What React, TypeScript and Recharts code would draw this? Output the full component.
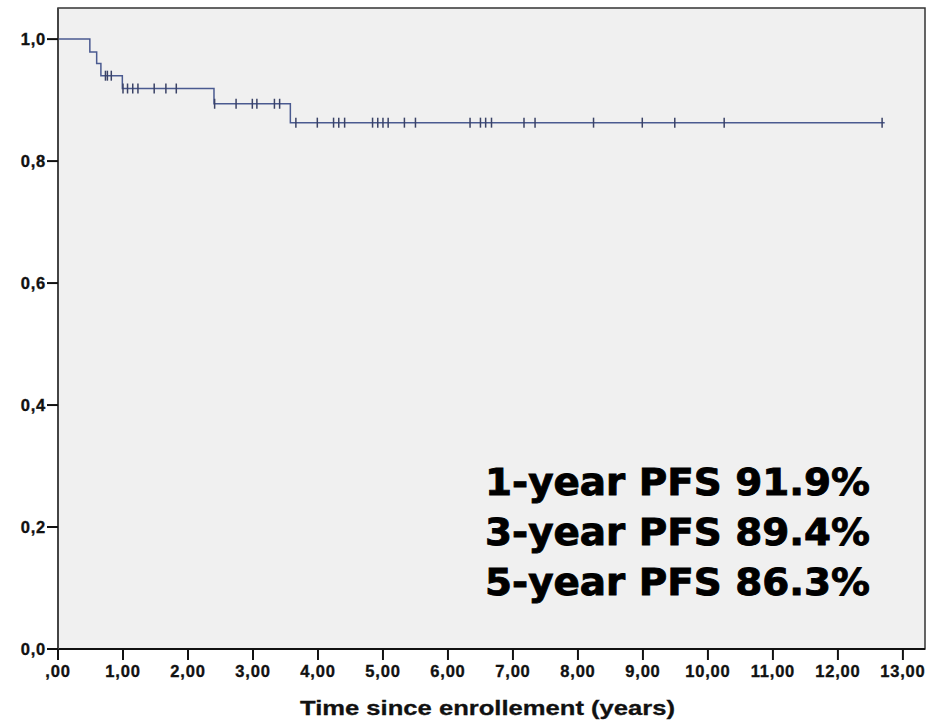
import React from 'react';
import {
  ComposedChart, Line, Scatter, XAxis, YAxis, ReferenceArea, Customized,
} from 'recharts';

// Kaplan-Meier steps: time (years) and survival proportion
const stepTimes = [0, 0.49, 0.595, 0.66, 0.99, 2.4, 3.575, 12.72];
const stepSurvival = [1.0, 0.979, 0.96, 0.94, 0.919, 0.894, 0.863, 0.863];

// censored observations (years)
const censoredTimes = [
  0.73, 0.76, 0.82, 1.0, 1.07, 1.15, 1.23, 1.48, 1.66, 1.82,
  2.41, 2.74, 2.99, 3.06, 3.33, 3.41, 3.66, 3.99, 4.24, 4.32,
  4.41, 4.84, 4.92, 5.0, 5.08, 5.33, 5.5, 6.34, 6.5, 6.58,
  6.67, 7.17, 7.34, 8.24, 8.99, 9.49, 10.25, 12.68,
];

const xTicks = [0, 1, 2, 3, 4, 5, 6, 7, 8, 9, 10, 11, 12, 13];
const yTicks = [0, 0.2, 0.4, 0.6, 0.8, 1.0];

const pfsLabels = ['1-year PFS 91.9%', '3-year PFS 89.4%', '5-year PFS 86.3%'];
const xTitle = 'Time since enrollement (years)';

const X_MAX = 13.34;
const Y_MAX = 1.051;

const stepData = stepTimes.map((t, i) => ({ t, s: stepSurvival[i] }));

const survivalAt = (t: number) => {
  let s = stepSurvival[0];
  stepTimes.forEach((st, i) => {
    if (st <= t) s = stepSurvival[i];
  });
  return s;
};

const censorData = censoredTimes.map(t => ({ t, s: survivalAt(t) }));

const fmtX = (v: number) => (v === 0 ? ',00' : `${v},00`);
const fmtY = (v: number) => v.toFixed(1).replace('.', ',');

const CensorMark = (props: any) => {
  const { cx, cy } = props;
  if (cx == null || cy == null) return null;
  return <line x1={cx} x2={cx} y1={cy - 5} y2={cy + 5} stroke="#3a4266" strokeWidth={1.5} />;
};

const AxisTitle = () => (
  <text
    x={300}
    y={715}
    fontFamily="Liberation Sans, Arial, sans-serif"
    fontWeight="bold"
    fontSize={21}
    fill="#111"
    stroke="#111"
    strokeWidth={0.3}
    textLength={375}
    lengthAdjust="spacingAndGlyphs"
  >
    {xTitle}
  </text>
);

const tickStyle = {
  fontFamily: 'Liberation Sans, Arial, sans-serif',
  fontWeight: 'bold',
  fontSize: 16.5,
  fill: '#111',
  stroke: '#111',
  strokeWidth: 0.35,
  letterSpacing: 0.8,
};

export default function App() {
  return (
    <div style={{ position: 'absolute', left: 0, top: 0, width: 942, height: 720, background: '#fff' }}>
      <ComposedChart width={942} height={720} margin={{ top: 8, right: 17, bottom: 0, left: 0 }}>
        <XAxis
          type="number"
          dataKey="t"
          domain={[0, X_MAX]}
          ticks={xTicks}
          tickFormatter={fmtX}
          height={71}
          tickSize={11}
          tickMargin={5}
          tick={tickStyle}
          axisLine={{ stroke: '#111', strokeWidth: 2 }}
          tickLine={{ stroke: '#111', strokeWidth: 2 }}
          allowDataOverflow
        />
        <YAxis
          type="number"
          dataKey="s"
          domain={[0, Y_MAX]}
          ticks={yTicks}
          tickFormatter={fmtY}
          width={58}
          tickSize={11}
          tickMargin={1}
          tick={tickStyle}
          axisLine={{ stroke: '#444', strokeWidth: 2 }}
          tickLine={{ stroke: '#111', strokeWidth: 2 }}
          allowDataOverflow
        />
        <ReferenceArea
          x1={0}
          x2={X_MAX}
          y1={0}
          y2={Y_MAX}
          fill="#f0f0f0"
          fillOpacity={1}
          stroke="#333"
          strokeWidth={1.5}
        />
        <Line
          data={stepData}
          dataKey="s"
          type="stepAfter"
          stroke="#4a5a90"
          strokeWidth={1.5}
          dot={false}
          activeDot={false}
          isAnimationActive={false}
        />
        <Scatter
          data={censorData}
          dataKey="s"
          shape={CensorMark}
          isAnimationActive={false}
        />
        <Customized component={AxisTitle} />
      </ComposedChart>
      <svg
        width={942}
        height={720}
        style={{ position: 'absolute', left: 0, top: 0, pointerEvents: 'none' }}
      >
        {pfsLabels.map((txt, i) => (
          <text
            key={txt}
            x={485}
            y={495 + i * 50}
            fontFamily="DejaVu Sans, Verdana, sans-serif"
            fontWeight="bold"
            fontSize={38}
            fill="#000"
            stroke="#000"
            strokeWidth={0.9}
            textLength={385}
            lengthAdjust="spacingAndGlyphs"
          >
            {txt}
          </text>
        ))}
      </svg>
    </div>
  );
}
